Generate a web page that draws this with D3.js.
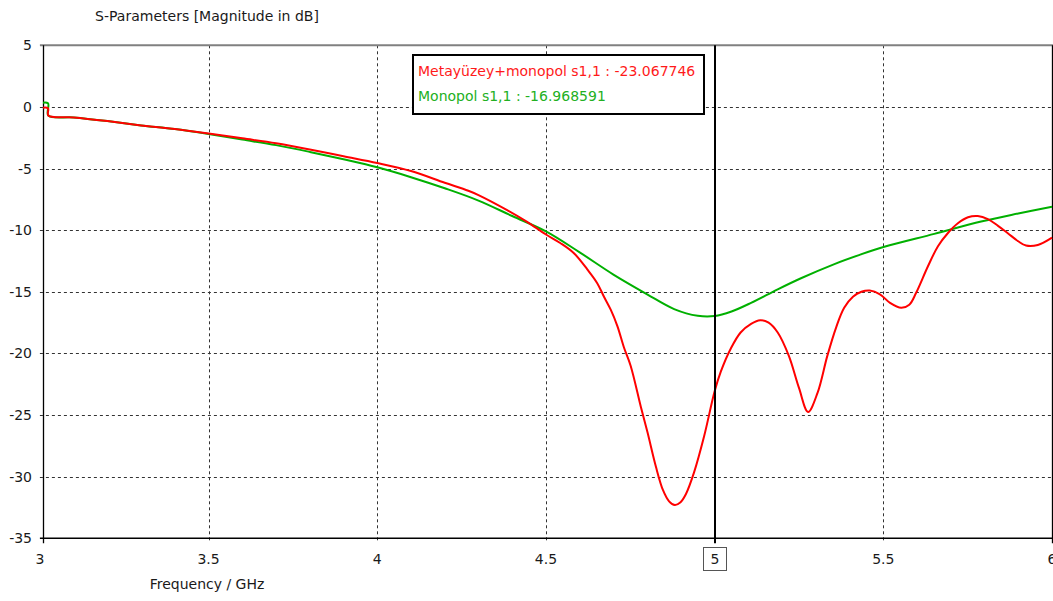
<!DOCTYPE html>
<html>
<head>
<meta charset="utf-8">
<script src="https://cdn.jsdelivr.net/npm/d3@7"></script>
<style>
  html, body { margin: 0; padding: 0; background: #fff; }
  svg { display: block; }
  text { font-family: "DejaVu Sans", Verdana, sans-serif; fill: #1a1a1a; }
</style>
</head>
<body>
<svg id="chart" width="1053" height="601"></svg>
<script>
// S11 magnitude (dB) vs frequency (GHz)
const metaFreq = [3.0, 3.024, 3.025, 3.1, 3.2, 3.3, 3.4, 3.5, 3.6, 3.7, 3.8, 3.9, 4.0, 4.1, 4.2, 4.27, 4.3, 4.385, 4.443, 4.5, 4.5435, 4.583, 4.623, 4.652, 4.672, 4.692, 4.712, 4.731, 4.751, 4.781, 4.801, 4.826, 4.847, 4.865, 4.882, 4.898, 4.915, 4.939, 4.969, 5.0, 5.018, 5.048, 5.077, 5.108, 5.135, 5.16, 5.187, 5.22, 5.25, 5.277, 5.305, 5.334, 5.36, 5.384, 5.41, 5.435, 5.46, 5.49, 5.52, 5.553, 5.577, 5.597, 5.632, 5.662, 5.691, 5.721, 5.751, 5.78, 5.81, 5.84, 5.869, 5.9, 5.923, 5.958, 6.0];
const metaDb   = [-0.1, -0.1, -0.7, -0.85, -1.15, -1.5, -1.8, -2.15, -2.55, -2.95, -3.45, -4.0, -4.55, -5.2, -6.15, -6.8, -7.15, -8.37, -9.3, -10.35, -11.06, -11.87, -13.2, -14.3, -15.4, -16.45, -17.8, -19.5, -21.0, -24.3, -26.4, -29.2, -31.1, -32.0, -32.3, -32.1, -31.4, -29.65, -26.7, -23.07, -21.5, -19.6, -18.3, -17.6, -17.3, -17.5, -18.3, -20.2, -22.8, -24.75, -23.2, -20.2, -17.9, -16.3, -15.4, -15.0, -14.9, -15.2, -15.9, -16.3, -16.05, -15.1, -12.95, -11.3, -10.25, -9.44, -8.95, -8.85, -9.1, -9.65, -10.25, -10.9, -11.25, -11.2, -10.6];

const monoFreq = [3.0, 3.024, 3.025, 3.1, 3.2, 3.3, 3.4, 3.5, 3.6, 3.7, 3.8, 3.9, 4.0, 4.1, 4.2, 4.3, 4.4, 4.5, 4.6, 4.7, 4.8, 4.88, 4.95, 5.0, 5.05, 5.108, 5.187, 5.256, 5.355, 5.43, 5.503, 5.651, 5.79, 5.9, 6.0];
const monoDb   = [0.3, 0.3, -0.7, -0.85, -1.15, -1.5, -1.8, -2.2, -2.65, -3.1, -3.65, -4.25, -4.9, -5.7, -6.6, -7.6, -8.85, -10.1, -11.8, -13.6, -15.2, -16.4, -16.95, -16.97, -16.6, -15.9, -14.8, -13.9, -12.75, -12.0, -11.35, -10.3, -9.3, -8.65, -8.1];

const xTicks = [3, 3.5, 4, 4.5, 5, 5.5, 6];
const yTicks = [5, 0, -5, -10, -15, -20, -25, -30, -35];
const markerFreq = 5;
const seriesNames = ["Metayüzey+monopol s1,1", "Monopol s1,1"];
const markerValues = ["-23.067746", "-16.968591"];
const seriesColors = ["#ff0000", "#00b000"];

const svg = d3.select("#chart");
const x = d3.scaleLinear().domain([3, 6]).range([39.9, 1052]);
const y = d3.scaleLinear().domain([-35, 5]).range([538.3, 45.3]);

const plotLeft = 43, plotRight = 1052, plotTop = y(5), plotBottom = y(-35);

svg.append("defs").append("clipPath").attr("id", "plotClip")
  .append("rect").attr("x", plotLeft).attr("y", plotTop - 1)
  .attr("width", plotRight - plotLeft + 1).attr("height", plotBottom - plotTop + 2);

// dashed grid
const grid = svg.append("g");
grid.selectAll("line.h").data(yTicks.filter(v => v > -35 && v < 5)).join("line")
  .attr("x1", x(3)).attr("x2", plotRight)
  .attr("y1", d => Math.round(y(d)) + 0.5).attr("y2", d => Math.round(y(d)) + 0.5)
  .attr("stroke", "#333").attr("stroke-width", 1).attr("stroke-dasharray", "3,3");
grid.selectAll("line.v").data(xTicks.filter(v => v > 3 && v < 6 && v !== markerFreq)).join("line")
  .attr("x1", d => Math.round(x(d)) + 0.5).attr("x2", d => Math.round(x(d)) + 0.5)
  .attr("y1", plotTop).attr("y2", plotBottom + 5)
  .attr("stroke", "#333").attr("stroke-width", 1).attr("stroke-dasharray", "3,3");

// frame
svg.append("line").attr("x1", x(3)).attr("x2", plotRight + 1)
  .attr("y1", plotTop).attr("y2", plotTop).attr("stroke", "#808080").attr("stroke-width", 2);
svg.append("line").attr("x1", x(3)).attr("x2", plotRight + 1)
  .attr("y1", plotBottom).attr("y2", plotBottom).attr("stroke", "#000").attr("stroke-width", 1.6);
svg.append("line").attr("x1", plotLeft + 0.5).attr("x2", plotLeft + 0.5)
  .attr("y1", plotTop).attr("y2", plotBottom + 5).attr("stroke", "#000").attr("stroke-width", 1.3);
svg.append("line").attr("x1", plotRight + 0.5).attr("x2", plotRight + 0.5)
  .attr("y1", plotTop).attr("y2", plotBottom + 5).attr("stroke", "#000").attr("stroke-width", 1.3);

// axis tick labels
svg.append("g").selectAll("text").data(yTicks).join("text")
  .attr("x", 32).attr("y", d => y(d)).attr("dy", "0.36em")
  .attr("text-anchor", "end").style("font-size", "14px").text(d => d);
svg.append("g").selectAll("text").data(xTicks).join("text")
  .attr("x", d => x(d)).attr("y", 559).attr("dy", "0.36em")
  .attr("text-anchor", "middle").style("font-size", "14px").text(d => d);

// titles
svg.append("text").attr("x", 207).attr("y", 16).attr("dy", "0.36em")
  .attr("text-anchor", "middle").style("font-size", "14px").text("S-Parameters [Magnitude in dB]");
svg.append("text").attr("x", 207).attr("y", 584).attr("dy", "0.36em")
  .attr("text-anchor", "middle").style("font-size", "14px").text("Frequency / GHz");

// curves
const line = d3.line().x(d => x(d[0])).y(d => y(d[1])).curve(d3.curveCatmullRom.alpha(0.5));
const curves = svg.append("g").attr("clip-path", "url(#plotClip)");
const series = [d3.zip(metaFreq, metaDb), d3.zip(monoFreq, monoDb)];
// green first so the red trace sits on top
[1, 0].forEach(i => {
  curves.append("path").datum(series[i]).attr("d", line)
    .attr("fill", "none").attr("stroke", seriesColors[i]).attr("stroke-width", 2)
    .attr("stroke-linejoin", "round");
});

// marker at 5 GHz
const mx = Math.round(x(markerFreq));
svg.append("line").attr("x1", mx).attr("x2", mx)
  .attr("y1", plotTop).attr("y2", plotBottom + 5).attr("stroke", "#000").attr("stroke-width", 2);
svg.append("rect").attr("x", mx - 11.5).attr("y", 547.5).attr("width", 23).attr("height", 23)
  .attr("fill", "#fff").attr("stroke", "#555").attr("stroke-width", 1);
svg.append("text").attr("x", mx).attr("y", 559).attr("dy", "0.36em")
  .attr("text-anchor", "middle").style("font-size", "14px").text(markerFreq);

// marker readout box
svg.append("rect").attr("x", 413).attr("y", 55).attr("width", 291).attr("height", 59)
  .attr("fill", "#fff").attr("stroke", "#000").attr("stroke-width", 2);
seriesNames.forEach((n, i) => {
  svg.append("text").attr("x", 418).attr("y", 71 + i * 25).attr("dy", "0.36em")
    .style("font-size", "14px").style("fill", i === 0 ? "#ff1a1a" : "#22b022")
    .text(n + " : " + markerValues[i]);
});
</script>
</body>
</html>
